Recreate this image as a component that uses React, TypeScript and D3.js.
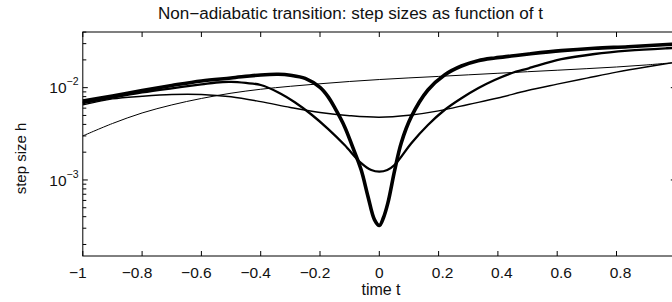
import React from "react";
import * as d3 from "d3";

const T1 = [-1,-0.9,-0.8,-0.7,-0.6,-0.5,-0.4,-0.34,-0.3,-0.25,-0.2,-0.173,-0.15,-0.117,-0.09,-0.061,-0.038,-0.016,0,0.014,0.029,0.052,0.074,0.108,0.164,0.22,0.277,0.333,0.39,0.445,0.504,0.614,0.726,0.839,0.985,1];
const H1 = [0.00718,0.00813,0.00933,0.01057,0.01183,0.01274,0.01374,0.01396,0.01364,0.01259,0.01005,0.00799,0.00603,0.00378,0.00228,0.00128,0.000659,0.000369,0.000321,0.00039,0.000564,0.00128,0.00252,0.00485,0.00944,0.01374,0.01718,0.01963,0.0210,0.02203,0.02317,0.02518,0.02673,0.0278,0.0295,0.0297];

const T2 = [-1,-0.9,-0.8,-0.7,-0.6,-0.55,-0.5,-0.45,-0.4,-0.342,-0.285,-0.229,-0.173,-0.117,-0.061,-0.027,0,0.027,0.052,0.108,0.164,0.22,0.277,0.333,0.389,0.445,0.504,0.614,0.726,0.839,0.97,1];
const H2 = [0.00678,0.0078,0.00887,0.00985,0.01084,0.01138,0.01154,0.01124,0.01069,0.00893,0.00695,0.00512,0.00358,0.00239,0.00152,0.00128,0.00123,0.00128,0.00146,0.0025,0.00394,0.00573,0.00768,0.00985,0.0121,0.01432,0.01622,0.02032,0.02317,0.02518,0.02673,0.0270];

const T34 = [-1,-0.9,-0.8,-0.7,-0.6,-0.5,-0.4,-0.3,-0.2,-0.1,0,0.1,0.2,0.3,0.4,0.5,0.6,0.7,0.8,0.9,1];
const H3 = [0.0065,0.00755,0.00807,0.00844,0.00844,0.00796,0.00705,0.0061,0.00538,0.00497,0.00478,0.00502,0.0056,0.00658,0.00773,0.00933,0.01091,0.01268,0.01472,0.01675,0.01884];
const H4 = [0.0030,0.00409,0.00532,0.0065,0.00764,0.00871,0.00961,0.01035,0.01102,0.01167,0.01225,0.01276,0.01324,0.01377,0.01432,0.01489,0.01545,0.01607,0.01675,0.01762,0.01875];

const X_TICKS = [-1,-0.8,-0.6,-0.4,-0.2,0,0.2,0.4,0.6,0.8,1];
const X_LABELS = ["\u22121","\u22120.8","\u22120.6","\u22120.4","\u22120.2","0","0.2","0.4","0.6","0.8",""];
const Y_MAJOR = [-3,-2];

const W = 672, H = 302;
const L = 82.8, R = 675.8, TOP = 32, BOT = 256;

export default function App() {
  const x = d3.scaleLinear().domain([-1, 1]).range([L, R]);
  const y = d3.scaleLog().domain([1.5e-4, 0.0401]).range([BOT, TOP]);
  const line = d3.line<[number, number]>()
    .x(d => x(d[0])).y(d => y(d[1]))
    .curve(d3.curveCatmullRom.alpha(0.5));
  const series = [
    { t: T34, h: H4, w: 1.0 },
    { t: T34, h: H3, w: 1.4 },
    { t: T2, h: H2, w: 2.3 },
    { t: T1, h: H1, w: 3.6 },
  ];
  const minor: number[] = [];
  for (let e = -4; e <= -1; e++) {
    for (let k = 2; k <= 9; k++) {
      const v = k * Math.pow(10, e);
      if (v >= 1.5e-4 && v <= 0.0401) minor.push(v);
    }
  }
  const font = "'Liberation Sans', Arial, Helvetica, sans-serif";
  const tl = 5;
  return (
    <svg width={W} height={H} style={{ position: "absolute", left: 0, top: 0, background: "#fff" }} fontFamily={font} fill="#111">
      <defs>
        <clipPath id="pa"><rect x={L} y={TOP} width={R - L} height={BOT - TOP} /></clipPath>
      </defs>
      <rect x={0} y={0} width={W} height={H} fill="#fff" />
      <g clipPath="url(#pa)">
        {series.map((s, i) => (
          <path key={i} d={line(s.t.map((t, j) => [t, s.h[j]] as [number, number])) || ""}
            fill="none" stroke="#000" strokeWidth={s.w} strokeLinejoin="round" strokeLinecap="round" />
        ))}
      </g>
      <rect x={L} y={TOP} width={R - L} height={BOT - TOP} fill="none" stroke="#000" strokeWidth={1} />
      {X_TICKS.map((t, i) => (
        <g key={t}>
          <line x1={x(t)} x2={x(t)} y1={BOT} y2={BOT - tl} stroke="#000" />
          <line x1={x(t)} x2={x(t)} y1={TOP} y2={TOP + tl} stroke="#000" />
          <text x={x(t) + (t < 0 ? -5 : t > 0 ? 4 : 0)} y={277.5} textAnchor="middle" fontSize={15.5}>{X_LABELS[i]}</text>
        </g>
      ))}
      {minor.map(v => (
        <g key={v}>
          <line x1={L} x2={L + 3.5} y1={y(v)} y2={y(v)} stroke="#000" />
          <line x1={R} x2={R - 3.5} y1={y(v)} y2={y(v)} stroke="#000" />
        </g>
      ))}
      {Y_MAJOR.map(e => (
        <g key={e}>
          <line x1={L} x2={L + tl} y1={y(Math.pow(10, e))} y2={y(Math.pow(10, e))} stroke="#000" />
          <line x1={R} x2={R - tl} y1={y(Math.pow(10, e))} y2={y(Math.pow(10, e))} stroke="#000" />
          <text x={78.5} y={y(Math.pow(10, e)) + 5.8} textAnchor="end" fontSize={15.5}>
            10<tspan dy={-8} fontSize={10.5}>{"\u2212" + String(-e)}</tspan>
          </text>
        </g>
      ))}
      <text x={350.5} y={19} textAnchor="middle" fontSize={16} textLength={385} lengthAdjust="spacingAndGlyphs">Non{"\u2212"}adiabatic transition: step sizes as function of t</text>
      <text x={381} y={294.5} textAnchor="middle" fontSize={16}>time t</text>
      <text transform={`translate(25.5,158.5) rotate(-90)`} textAnchor="middle" fontSize={15}>step size h</text>
    </svg>
  );
}
